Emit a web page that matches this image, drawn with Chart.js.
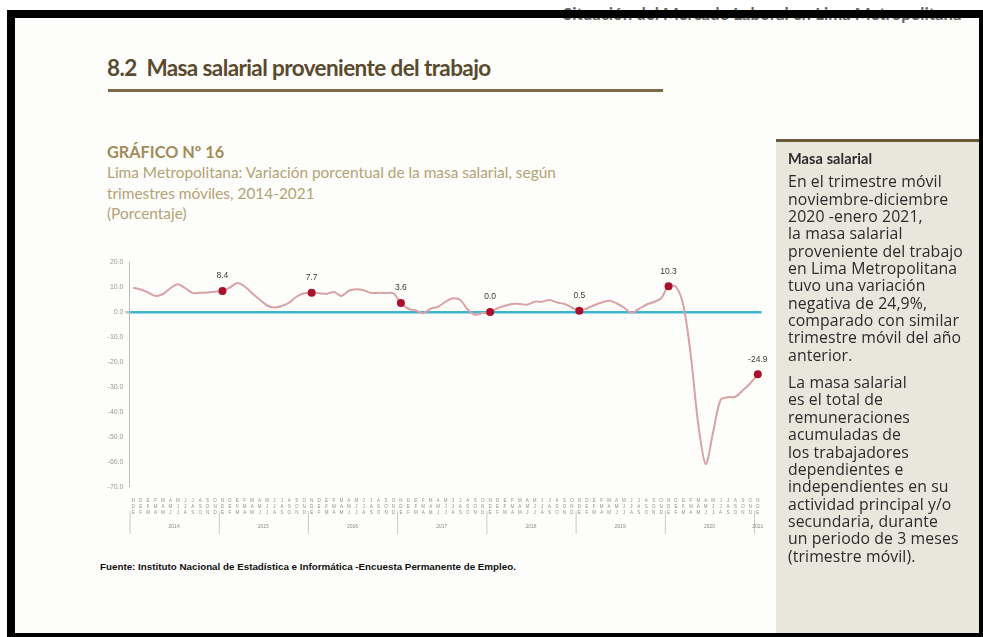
<!DOCTYPE html>
<html><head><meta charset="utf-8">
<script src="https://cdn.jsdelivr.net/npm/chart.js@4.4.1/dist/chart.umd.min.js"></script>
<style>
html,body{margin:0;padding:0;background:#fff;width:983px;height:637px;overflow:hidden;position:relative;font-family:Lato,"Open Sans",sans-serif}
.abs{position:absolute;white-space:nowrap}
#page{position:absolute;left:7px;top:10px;width:976px;height:627px;background:#fdfdfb}
#frame{position:absolute;left:7px;top:10px;width:976px;height:627px;box-sizing:border-box;border-left:8px solid #000;border-top:8px solid #000;border-bottom:4px solid #000;border-right:4px solid #000;z-index:10}
#hdr{left:563px;top:3px;font-size:16.8px;font-weight:bold;color:#666}
#title{left:107px;top:54px;font-size:22.5px;font-weight:bold;color:#5a4a2e;letter-spacing:-0.6px}
#rule{position:absolute;left:108px;top:89px;width:555px;height:3px;background:#7c6a45}
#graf{left:107px;top:142px;font-size:16.3px;font-weight:bold;color:#a28c55}
#sub{left:107px;top:162px;font-size:15.4px;line-height:20.5px;color:#b4a274}
#panel{position:absolute;left:776px;top:139px;width:207px;height:494px;background:#e9e6dc;border-top:3px solid #6b5a3a;box-sizing:border-box}
#ptxt{position:absolute;left:12px;top:8px;font-family:"Open Sans",Lato,sans-serif;font-size:15.8px;line-height:17.35px;color:#2b2b2b;white-space:nowrap;letter-spacing:0.1px}
#ptxt b{display:block;margin-bottom:6px;font-size:14.5px;font-family:Lato,sans-serif}
#ptxt p{margin:0 0 10px 0}
#src{left:100px;top:561px;font-family:"Liberation Sans",Arial,sans-serif;font-size:9.8px;font-weight:bold;color:#111}
#wrap{position:absolute;left:95px;top:255px;width:672px;height:290px}
</style></head>
<body>
<div id="page"></div>
<div class="abs" id="hdr">Situación del Mercado Laboral en Lima Metropolitana</div>
<div class="abs" id="title">8.2&nbsp; Masa salarial proveniente del trabajo</div>
<div id="rule"></div>
<div class="abs" id="graf">GRÁFICO Nº 16</div>
<div class="abs" id="sub">Lima Metropolitana: Variación porcentual de la masa salarial, según<br>trimestres móviles, 2014-2021<br>(Porcentaje)</div>
<div id="wrap"><canvas id="c" width="672" height="290"></canvas></div>
<div class="abs" id="src">Fuente: Instituto Nacional de Estadística e Informática -Encuesta Permanente de Empleo.</div>
<div id="panel"><div id="ptxt"><b>Masa salarial</b><p>En el trimestre móvil<br>noviembre-diciembre<br>2020 -enero 2021,<br>la masa salarial<br>proveniente del trabajo<br>en Lima Metropolitana<br>tuvo una variación<br>negativa de 24,9%,<br>comparado con similar<br>trimestre móvil del año<br>anterior.</p><p>La masa salarial<br>es el total de<br>remuneraciones<br>acumuladas de<br>los trabajadores<br>dependientes e<br>independientes en su<br>actividad principal y/o<br>secundaria, durante<br>un periodo de 3 meses<br>(trimestre móvil).</p></div></div>
<div id="frame"></div>
<script>
// Trimestres móviles (iniciales de los tres meses)
const trimestres = [["N","D","E"],["D","E","F"],["E","F","M"],["F","M","A"],["M","A","M"],["A","M","J"],["M","J","J"],["J","J","A"],["J","A","S"],["A","S","O"],["S","O","N"],["O","N","D"]];
const anios = ["2014","2015","2016","2017","2018","2019","2020","2021"];
const periodosPorAnio = [12,12,12,12,12,12,12,1];
// Variación porcentual de la masa salarial
const variacion = [
  9.7, 9.0, 7.8, 6.4, 7.2, 9.5, 11.1, 9.5, 7.6, 7.7, 7.8, 8.1,
  8.4, 9.8, 11.6, 10.2, 7.5, 5.0, 2.6, 1.8, 2.4, 3.8, 6.2, 7.5,
  7.7, 7.5, 7.3, 8.0, 6.4, 8.5, 9.1, 8.7, 7.6, 7.7, 7.6, 7.5,
  3.6, 1.3, 0.6, -0.5, 1.3, 2.1, 4.1, 5.5, 4.8, 0.9, -1.1, -0.4,
  0.0, 1.5, 2.5, 3.2, 3.2, 2.9, 4.1, 4.1, 4.8, 3.8, 3.2, 1.8,
  0.5, 1.4, 2.7, 3.8, 4.5, 3.5, 1.8, -0.3, 1.2, 2.9, 4.0, 5.5,
  10.3, 10.1, 2.5, -17.5, -45.0, -60.8, -47.9, -35.1, -34.1, -33.9, -31.3, -28.5,
  -24.9
];
// Puntos destacados (trimestre Nov-Dic-Ene de cada año)
const destacados = [12, 24, 36, 48, 60, 72, 84];
const yTicks = [20, 10, 0, -10, -20, -30, -40, -50, -60, -70];

const etiquetas = [];
anios.forEach((a, k) => { for (let m = 0; m < periodosPorAnio[k]; m++) etiquetas.push(trimestres[m]); });

const aniosPlugin = {
  id: 'anios',
  afterDraw(chart) {
    const x = chart.scales.x, ctx = chart.ctx;
    const step = x.getPixelForValue(1) - x.getPixelForValue(0);
    ctx.save();
    ctx.strokeStyle = '#c9c9c9'; ctx.lineWidth = 1;
    ctx.fillStyle = '#8a8a8a'; ctx.font = '5px "Liberation Sans"';
    ctx.textAlign = 'center'; ctx.textBaseline = 'middle';
    let start = 0, b = 0;
    anios.forEach((a, k) => {
      const n = periodosPorAnio[k];
      const l = x.getPixelForValue(start) - step / 2;
      b = x.getPixelForValue(start + n - 1) + step / 2;
      ctx.beginPath(); ctx.moveTo(l + 0.5, 256); ctx.lineTo(l + 0.5, 279); ctx.stroke();
      ctx.fillText(a, (l + b) / 2, 272);
      start += n;
    });
    ctx.restore();
    // etiquetas de datos
    const meta = chart.getDatasetMeta(0);
    ctx.save();
    ctx.fillStyle = '#3a3a3a'; ctx.font = '8.5px "Liberation Sans Narrow","Liberation Sans"';
    ctx.textAlign = 'center'; ctx.textBaseline = 'middle';
    destacados.forEach(i => {
      const p = meta.data[i];
      ctx.fillText(variacion[i].toFixed(1), p.x, p.y - 15);
    });
    ctx.restore();
  }
};

new Chart(document.getElementById('c'), {
  type: 'line',
  data: { labels: etiquetas, datasets: [{
    data: variacion,
    borderColor: '#d9a2a6', borderWidth: 2, tension: 0.3,
    pointRadius: c => destacados.includes(c.dataIndex) ? 4 : 0,
    pointBackgroundColor: '#a8102b', pointBorderColor: '#a8102b', pointBorderWidth: 0
  }]},
  options: {
    responsive: false, animation: false,
    layout: { padding: { top: 7, right: 5.5, left: 0, bottom: 0 } },
    plugins: { legend: { display: false }, tooltip: { enabled: false } },
    scales: {
      x: {
        offset: true,
        grid: { display: false }, border: { display: false },
        ticks: { autoSkip: false, maxRotation: 0, minRotation: 0, padding: 3,
          color: '#8f8f8f', font: { size: 4.5, family: 'Liberation Sans', lineHeight: 1.3 } },
        afterFit: s => { s.height = 58; }
      },
      y: {
        min: -70, max: 20,
        afterBuildTicks: s => { s.ticks = yTicks.map(v => ({ value: v })); },
        border: { display: true, color: '#bdbdbd', width: 1 },
        grid: {
          drawOnChartArea: true, tickLength: 4, tickColor: '#bdbdbd',
          color: c => c.tick && c.tick.value === 0 ? '#3fb4cf' : 'rgba(0,0,0,0)',
          lineWidth: c => c.tick && c.tick.value === 0 ? 2.5 : 0
        },
        ticks: { color: '#9a9a9a', padding: 2, font: { size: 7, family: 'Liberation Sans' },
          callback: v => Number(v).toFixed(1) },
        afterFit: s => { s.width = 34.5; }
      }
    }
  },
  plugins: [aniosPlugin]
});
</script>
</body></html>
